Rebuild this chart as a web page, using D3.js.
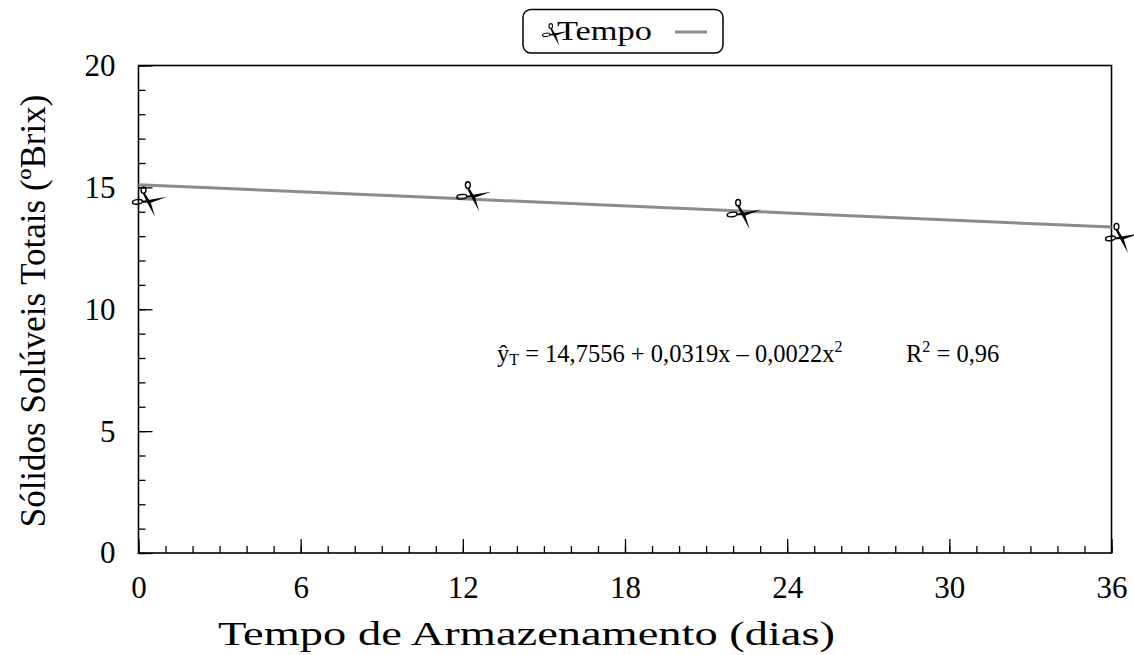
<!DOCTYPE html>
<html>
<head>
<meta charset="utf-8">
<script src="https://cdn.jsdelivr.net/npm/d3@7"></script>
<style>
  html, body { margin: 0; padding: 0; background: #fff; }
  svg { display: block; }
  svg text { font-family: "Liberation Serif", "Times New Roman", serif; }
</style>
</head>
<body>
<svg id="chart" width="1134" height="655"></svg>
<script>
// Storage time (days) and measured total soluble solids (°Brix)
const days = [0, 12, 22, 36];
const brix = [14.48, 14.69, 13.96, 12.98];

// Fitted trend line, sampled along the storage period
const fitDays = [0, 12, 24, 36];
const fitBrix = [15.11, 14.53, 13.95, 13.37];

const xMajorTicks = [0, 6, 12, 18, 24, 30, 36];
const xMinorTicks = d3.range(0, 37, 1);
const yMajorTicks = [0, 5, 10, 15, 20];
const yMinorTicks = d3.range(0, 21, 1);

const seriesName = "Tempo";
const xTitle = "Tempo de Armazenamento (dias)";
const yTitle = "Sólidos Solúveis Totais (ºBrix)";

const FONT = "Liberation Serif, Times New Roman, serif";
const svg = d3.select("#chart");
const plot = { left: 138.5, right: 1111.5, top: 65.5, bottom: 553 };

const x = d3.scaleLinear().domain([0, 36]).range([plot.left, plot.right]);
const y = d3.scaleLinear().domain([0, 20]).range([plot.bottom, plot.top]);

const styleTicks = g => g.selectAll("line").attr("stroke", "#000").attr("stroke-width", 1.3);

// Minor ticks (inward, no labels)
svg.append("g")
  .attr("transform", `translate(0,${plot.bottom})`)
  .call(d3.axisBottom(x).tickValues(xMinorTicks).tickSize(-7).tickFormat(""))
  .call(g => g.select(".domain").remove())
  .call(styleTicks);

svg.append("g")
  .attr("transform", `translate(${plot.left},0)`)
  .call(d3.axisLeft(y).tickValues(yMinorTicks).tickSize(-7).tickFormat(""))
  .call(g => g.select(".domain").remove())
  .call(styleTicks);

// Major ticks with labels
svg.append("g")
  .attr("transform", `translate(0,${plot.bottom})`)
  .call(d3.axisBottom(x).tickValues(xMajorTicks).tickSize(-14).tickPadding(23).tickFormat(d3.format("d")))
  .call(g => g.select(".domain").remove())
  .call(styleTicks)
  .call(g => g.selectAll("text").attr("fill", "#000").attr("font-size", 31).attr("font-family", FONT));

svg.append("g")
  .attr("transform", `translate(${plot.left},0)`)
  .call(d3.axisLeft(y).tickValues(yMajorTicks).tickSize(-14).tickPadding(23).tickFormat(d3.format("d")))
  .call(g => g.select(".domain").remove())
  .call(styleTicks)
  .call(g => g.selectAll("text").attr("fill", "#000").attr("font-size", 31).attr("font-family", FONT));

// Plot frame
svg.append("rect")
  .attr("x", plot.left).attr("y", plot.top)
  .attr("width", plot.right - plot.left).attr("height", plot.bottom - plot.top)
  .attr("fill", "none").attr("stroke", "#000").attr("stroke-width", 1.6);

// Trend line
const fitData = fitDays.map((d, i) => [d, fitBrix[i]]);
svg.append("path")
  .datum(fitData)
  .attr("fill", "none")
  .attr("stroke", "#8c8c8c")
  .attr("stroke-width", 3)
  .attr("d", d3.line().x(d => x(d[0])).y(d => y(d[1])));

// Scissors marker, drawn relative to an anchor point
function scissors(g, px, py, s = 1) {
  const m = g.append("g").attr("transform", `translate(${px + 5 * s},${py - 10 * s}) scale(${s})`);
  m.append("ellipse").attr("cx", 0).attr("cy", 0).attr("rx", 2.4).attr("ry", 3.2)
    .attr("fill", "none").attr("stroke", "#000").attr("stroke-width", 1.4);
  m.append("ellipse").attr("cx", -6).attr("cy", 11.8).attr("rx", 5).attr("ry", 2.2)
    .attr("transform", "rotate(-8,-6,11.8)")
    .attr("fill", "none").attr("stroke", "#000").attr("stroke-width", 1.4);
  // horizontal blade
  m.append("path").attr("d", "M-1,10.8 L8,9.4 L23.5,6.8 L8,12.4 L-1,12.6 Z").attr("fill", "#000");
  // slanted blade
  m.append("path").attr("d", "M-0.9,3.2 L1.2,2.8 L7.2,12.5 L11.5,26.5 L4.3,13.6 Z").attr("fill", "#000");
}

const pts = days.map((d, i) => [d, brix[i]]);
const markers = svg.append("g");
pts.forEach(p => scissors(markers, x(p[0]), y(p[1])));

// Regression equation
const eq = svg.append("text").attr("x", 497).attr("y", 362).attr("font-size", 24.5).attr("fill", "#000");
eq.append("tspan").text("ŷ");
eq.append("tspan").attr("font-size", 16).attr("dy", 3).text("T");
eq.append("tspan").attr("dy", -3).text(" = 14,7556 + 0,0319x – 0,0022x");
eq.append("tspan").attr("font-size", 16).attr("dy", -10).text("2");

const r2 = svg.append("text").attr("x", 906).attr("y", 362).attr("font-size", 24.5).attr("fill", "#000");
r2.append("tspan").text("R");
r2.append("tspan").attr("font-size", 16).attr("dy", -10).text("2");
r2.append("tspan").attr("dy", 10).text(" = 0,96");

// Axis titles
svg.append("text")
  .attr("x", 218).attr("y", 645)
  .attr("font-size", 34).attr("fill", "#000")
  .attr("textLength", 617).attr("lengthAdjust", "spacingAndGlyphs")
  .text(xTitle);

svg.append("text")
  .attr("transform", "translate(45,311) rotate(-90)")
  .attr("text-anchor", "middle").attr("font-size", 35).attr("fill", "#000")
  .text(yTitle);

// Legend
const legend = svg.append("g");
legend.append("rect")
  .attr("x", 523).attr("y", 9.5).attr("width", 200).attr("height", 43.5)
  .attr("rx", 8).attr("fill", "#fff").attr("stroke", "#000").attr("stroke-width", 1.5);
scissors(legend, 547, 33.5, 0.75);
legend.append("text").attr("x", 557).attr("y", 40).attr("font-size", 26.5).attr("fill", "#000")
  .attr("textLength", 95).attr("lengthAdjust", "spacingAndGlyphs")
  .text(seriesName);
legend.append("line").attr("x1", 675).attr("x2", 707).attr("y1", 32).attr("y2", 32)
  .attr("stroke", "#8c8c8c").attr("stroke-width", 3);
</script>
</body>
</html>
